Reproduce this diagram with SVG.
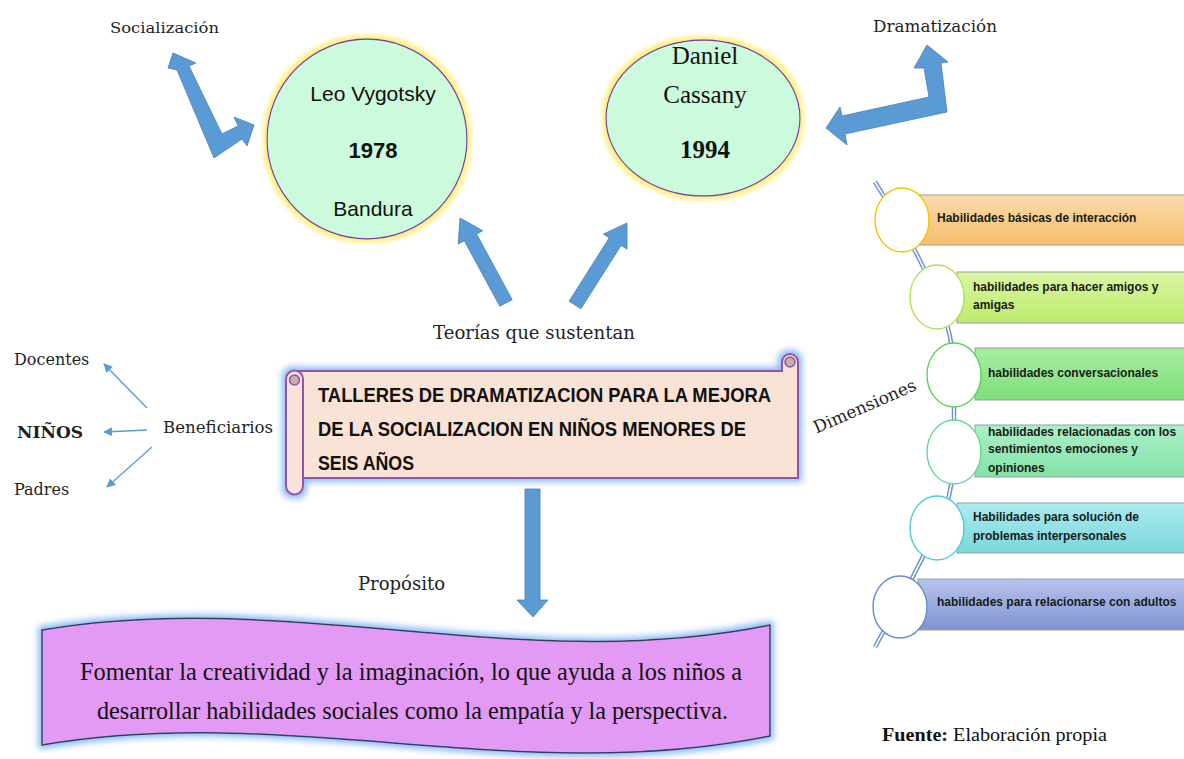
<svg xmlns="http://www.w3.org/2000/svg" width="1184" height="759" viewBox="0 0 1184 759">
<defs>
<style>
.ser{font-family:"DejaVu Serif","Liberation Serif",serif;fill:#1f1f1f}
.tim{font-family:"Liberation Serif","Times New Roman",serif;fill:#111}
.san{font-family:"Liberation Sans",Arial,sans-serif;fill:#111}
.bar{font-family:"Liberation Sans",Arial,sans-serif;font-weight:bold;font-size:12px;fill:#1a1a1a}
.big{fill:#5B9BD5;stroke:#4A7FB5;stroke-width:0.8}
.thin{stroke:#5B9BD5;stroke-width:1.3;fill:none}
.barr{stroke:#9c9c9c;stroke-width:1}
.dot{fill:#fff;stroke-width:1.4}
</style>
<filter id="glowY" x="-20%" y="-20%" width="140%" height="140%">
<feMorphology in="SourceAlpha" operator="dilate" radius="3" result="d"/>
<feGaussianBlur in="d" stdDeviation="2.5" result="b"/>
<feFlood flood-color="#FFEE77"/>
<feComposite in2="b" operator="in" result="g"/>
<feMerge><feMergeNode in="g"/><feMergeNode in="SourceGraphic"/></feMerge>
</filter>
<filter id="glowB" x="-10%" y="-25%" width="120%" height="150%">
<feMorphology in="SourceAlpha" operator="dilate" radius="3" result="d"/>
<feGaussianBlur in="d" stdDeviation="3" result="b"/>
<feFlood flood-color="#8DBBF2"/>
<feComposite in2="b" operator="in" result="g"/>
<feMerge><feMergeNode in="g"/><feMergeNode in="SourceGraphic"/></feMerge>
</filter>
<marker id="ah" viewBox="0 0 10 10" refX="9" refY="5" markerWidth="9" markerHeight="9" markerUnits="userSpaceOnUse" orient="auto"><path d="M0,0 L10,5 L0,10 Z" fill="#5B9BD5"/></marker>
<linearGradient id="g1" x1="0" y1="0" x2="0" y2="1"><stop offset="0" stop-color="#FBDCAC"/><stop offset="1" stop-color="#F6BD6A"/></linearGradient>
<linearGradient id="g2" x1="0" y1="0" x2="0" y2="1"><stop offset="0" stop-color="#DAF6A4"/><stop offset="1" stop-color="#BDEA6C"/></linearGradient>
<linearGradient id="g3" x1="0" y1="0" x2="0" y2="1"><stop offset="0" stop-color="#A6EDA2"/><stop offset="1" stop-color="#7EDF79"/></linearGradient>
<linearGradient id="g4" x1="0" y1="0" x2="0" y2="1"><stop offset="0" stop-color="#ABF0C6"/><stop offset="1" stop-color="#84E2A8"/></linearGradient>
<linearGradient id="g5" x1="0" y1="0" x2="0" y2="1"><stop offset="0" stop-color="#AAEBEF"/><stop offset="1" stop-color="#7BD6DD"/></linearGradient>
<linearGradient id="g6" x1="0" y1="0" x2="0" y2="1"><stop offset="0" stop-color="#B6C3EB"/><stop offset="1" stop-color="#8194D1"/></linearGradient>
</defs>
<rect width="1184" height="759" fill="#fff"/>

<g id="connectors">
<polygon class="big" points="173,53 196,63 189,66 222,134 238,126 234,117 254,125 247,146 242,139 214,158 177,70 168,68"/>
<polygon class="big" points="927,45 948,62 941,63 947,112 845,134 847,145 826,128 840,107 842,116 929,97 924,68 914,68"/>
<polygon class="big" points="512.2,299.7 476.7,234.1 482.8,230.7 460,218 458.2,244.1 464.3,240.7 499.8,306.3"/>
<polygon class="big" points="580.9,308.8 621.1,245.4 627,249.1 627,223 603.4,234.1 609.3,237.8 569.1,301.2"/>
<polygon class="big" points="525,489 540,489 540,600 548,600 533,617 517,600 525,600"/>
<line class="thin" x1="147" y1="408" x2="104" y2="364" marker-end="url(#ah)"/>
<line class="thin" x1="147" y1="430" x2="104" y2="432" marker-end="url(#ah)"/>
<line class="thin" x1="152" y1="447" x2="107" y2="487" marker-end="url(#ah)"/>
</g>

<g id="labels">
<text class="ser" x="110" y="33" font-size="15.5" textLength="109" lengthAdjust="spacingAndGlyphs">Socialización</text>
<text class="ser" x="873" y="32" font-size="16.5" textLength="124" lengthAdjust="spacingAndGlyphs">Dramatización</text>
<text class="ser" x="433" y="339" font-size="18" textLength="202" lengthAdjust="spacingAndGlyphs">Teorías que sustentan</text>
<text class="ser" x="163" y="433" font-size="16.5" textLength="110" lengthAdjust="spacingAndGlyphs">Beneficiarios</text>
<text class="ser" x="358" y="590" font-size="18">Propósito</text>
<text class="ser" x="865" y="412" font-size="17" text-anchor="middle" fill="#3a3a3a" transform="rotate(-23.5 865 407)">Dimensiones</text>
</g>

<g id="node-vygotsky">
<circle cx="367" cy="139" r="100" fill="#CCFADC" stroke="#7A3FA8" stroke-width="1.3" filter="url(#glowY)"/>
<text class="san" x="373" y="101" font-size="21" text-anchor="middle">Leo Vygotsky</text>
<text class="san" x="373" y="158" font-size="22" font-weight="bold" text-anchor="middle">1978</text>
<text class="san" x="373" y="216" font-size="21" text-anchor="middle">Bandura</text>
</g>

<g id="node-cassany">
<ellipse cx="703" cy="118" rx="97" ry="78" fill="#CCFADC" stroke="#7A3FA8" stroke-width="1.3" filter="url(#glowY)"/>
<text class="tim" x="705" y="64" font-size="25" text-anchor="middle">Daniel</text>
<text class="tim" x="705" y="103" font-size="25" text-anchor="middle">Cassany</text>
<text class="tim" x="705" y="158" font-size="25" font-weight="bold" text-anchor="middle">1994</text>
</g>

<g id="node-talleres">
<g filter="url(#glowB)">
<path d="M295,371 H782 V362 A8,8 0 0 1 798,362 V478 H295 Z" fill="#F9E2D6" stroke="#8E55B0" stroke-width="2"/>
<path d="M286,379 A8.5,8.5 0 0 1 303,379 V486 A8.5,8.5 0 0 1 286,486 Z" fill="#F9E2D6" stroke="#8E55B0" stroke-width="2"/>
</g>
<circle cx="294.5" cy="380" r="5" fill="#C9ADA7" stroke="#8E55B0" stroke-width="1.5"/>
<circle cx="790" cy="362" r="5" fill="#C9ADA7" stroke="#8E55B0" stroke-width="1.5"/>
<text class="san" x="318" y="402" font-size="20" font-weight="bold" textLength="453" lengthAdjust="spacingAndGlyphs">TALLERES DE DRAMATIZACION PARA LA MEJORA</text>
<text class="san" x="318" y="436" font-size="20" font-weight="bold" textLength="428" lengthAdjust="spacingAndGlyphs">DE LA SOCIALIZACION EN NIÑOS MENORES DE</text>
<text class="san" x="318" y="470" font-size="20" font-weight="bold" textLength="96" lengthAdjust="spacingAndGlyphs">SEIS AÑOS</text>
</g>

<g id="node-docentes"><text class="ser" x="14" y="365" font-size="16">Docentes</text></g>
<g id="node-ninos"><text class="ser" x="17" y="438" font-size="17" font-weight="bold">NIÑOS</text></g>
<g id="node-padres"><text class="ser" x="14" y="495" font-size="16">Padres</text></g>

<g id="node-proposito">
<path d="M42,630 C290,588 520,676 770,625 L770,736 C520,787 290,703 42,745 Z" fill="#E39AF5" stroke="#2F3F5F" stroke-width="1.5" filter="url(#glowB)"/>
<text class="tim" x="80" y="680" font-size="25" textLength="662" lengthAdjust="spacingAndGlyphs">Fomentar la creatividad y la imaginación, lo que ayuda a los niños a</text>
<text class="tim" x="97" y="719" font-size="25" textLength="631" lengthAdjust="spacingAndGlyphs">desarrollar habilidades sociales como la empatía y la perspectiva.</text>
</g>

<g id="dimensiones-line">
<path d="M875,182 Q915,245 937,297 Q954,335 954,375 L954,452 Q954,495 937,528 Q915,575 875,647" fill="none" stroke="#7090D0" stroke-width="4.5"/>
<path d="M875,182 Q915,245 937,297 Q954,335 954,375 L954,452 Q954,495 937,528 Q915,575 875,647" fill="none" stroke="#fff" stroke-width="1.6"/>
</g>

<g id="dim-1">
<rect x="918" y="195" width="270" height="50" fill="url(#g1)" class="barr"/>
<ellipse class="dot" cx="902" cy="220" rx="27" ry="32" stroke="#FFC000"/>
<text class="bar" x="937" y="222">Habilidades básicas de interacción</text>
</g>
<g id="dim-2">
<rect x="957" y="272" width="231" height="51" fill="url(#g2)" class="barr"/>
<ellipse class="dot" cx="937" cy="297" rx="27" ry="32" stroke="#B0E35A"/>
<text class="bar" x="973" y="291">habilidades para hacer amigos y</text>
<text class="bar" x="973" y="309">amigas</text>
</g>
<g id="dim-3">
<rect x="975" y="348" width="213" height="52" fill="url(#g3)" class="barr"/>
<ellipse class="dot" cx="954" cy="375" rx="27" ry="32" stroke="#55D655"/>
<text class="bar" x="988" y="377">habilidades conversacionales</text>
</g>
<g id="dim-4">
<rect x="975" y="425" width="213" height="52" fill="url(#g4)" class="barr"/>
<ellipse class="dot" cx="954" cy="452" rx="27" ry="32" stroke="#5FDC95"/>
<text class="bar" x="988" y="436">habilidades relacionadas con los</text>
<text class="bar" x="988" y="453">sentimientos emociones y</text>
<text class="bar" x="988" y="472">opiniones</text>
</g>
<g id="dim-5">
<rect x="957" y="503" width="231" height="50" fill="url(#g5)" class="barr"/>
<ellipse class="dot" cx="937" cy="528" rx="27" ry="32" stroke="#4FCBD6"/>
<text class="bar" x="973" y="521">Habilidades para solución de</text>
<text class="bar" x="973" y="540">problemas interpersonales</text>
</g>
<g id="dim-6">
<rect x="918" y="579" width="270" height="51" fill="url(#g6)" class="barr"/>
<ellipse class="dot" cx="900" cy="607" rx="27" ry="31" stroke="#6A8BD0"/>
<text class="bar" x="937" y="606">habilidades para relacionarse con adultos</text>
</g>

<g id="fuente">
<text class="tim" x="882" y="741" font-size="19" textLength="225" lengthAdjust="spacingAndGlyphs"><tspan font-weight="bold">Fuente:</tspan> Elaboración propia</text>
</g>
</svg>
